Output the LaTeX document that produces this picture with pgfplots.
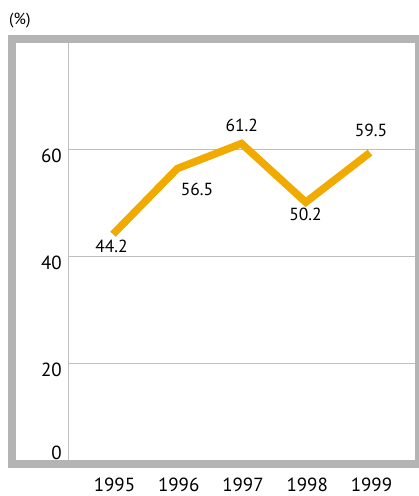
\documentclass[border=0pt]{standalone}
\usepackage{fontspec}
\setmainfont{PT Sans}
\usepackage{pgfplots}
\pgfplotsset{compat=1.18}
\definecolor{framegray}{RGB}{180,180,180}
\definecolor{gridgray}{RGB}{190,190,190}
\definecolor{lineorange}{RGB}{240,170,0}

\newcommand{\ticksize}{\fontsize{19bp}{22bp}\selectfont}
\newcommand{\valsize}{\fontsize{17.5bp}{20bp}\selectfont}

\begin{document}
\begin{tikzpicture}[x=1bp,y=1bp]
\useasboundingbox (0,0) rectangle (418,496);
\node[anchor=north west, inner sep=0pt, font=\fontsize{16bp}{18bp}\selectfont] at (9,483) {(\%)};
\begin{axis}[
  at={(12bp,31.5bp)}, anchor=south west,
  scale only axis, width=407bp, height=425.5bp,
  xmin=1993.428, xmax=1999.763, ymin=1.03, ymax=80.8,
  axis line style={framegray, line width=8bp},
  axis on top,
  clip=false,
  xtick={1995,1996,1997,1998,1999},
  xticklabels={1995,1996,1997,1998,1999},
  ytick={20,40,60}, yticklabels={20,40,60},
  major tick length=0pt,
  xticklabel style={anchor=north, inner sep=0pt, yshift=-13.5bp, xshift=1.5bp, font=\ticksize},
  yticklabel style={anchor=north east, inner sep=0pt, xshift=50bp, yshift=1bp, font=\ticksize},
]
% inner value axis and horizontal guides
\draw[gridgray, line width=1bp] (axis cs:1994.30,1.03) -- (axis cs:1994.30,80.8);
\draw[gridgray, line width=1bp] (axis cs:1994.30,20) -- (axis cs:1999.763,20);
\draw[gridgray, line width=1bp] (axis cs:1994.30,40) -- (axis cs:1999.763,40);
\draw[gridgray, line width=1bp] (axis cs:1994.30,60) -- (axis cs:1999.763,60);
\node[anchor=north east, inner sep=0pt, font=\ticksize] at (axis cs:1994.206,4.5) {0};

\addplot[lineorange, line width=7.5bp, line join=miter, line cap=butt] coordinates {
  (1995,44.2) (1996,56.5) (1997,61.2) (1998,50.2) (1999,59.5)
};

% value labels
\node[anchor=north, inner sep=0pt, font=\valsize] at ([xshift=-1.5bp, yshift=-5.7bp]axis cs:1995,44.2) {44.2};
\node[anchor=north, inner sep=0pt, font=\valsize] at ([xshift=19.75bp, yshift=-14.3bp]axis cs:1996,56.5) {56.5};
\node[anchor=south, inner sep=0pt, font=\valsize] at ([xshift=0.2bp, yshift=11.6bp]axis cs:1997,61.2) {61.2};
\node[anchor=north, inner sep=0pt, font=\valsize] at ([xshift=-0.25bp, yshift=-5.7bp]axis cs:1998,50.2) {50.2};
\node[anchor=south, inner sep=0pt, font=\valsize] at ([xshift=1bp, yshift=16bp]axis cs:1999,59.5) {59.5};
\end{axis}
\end{tikzpicture}
\end{document}
